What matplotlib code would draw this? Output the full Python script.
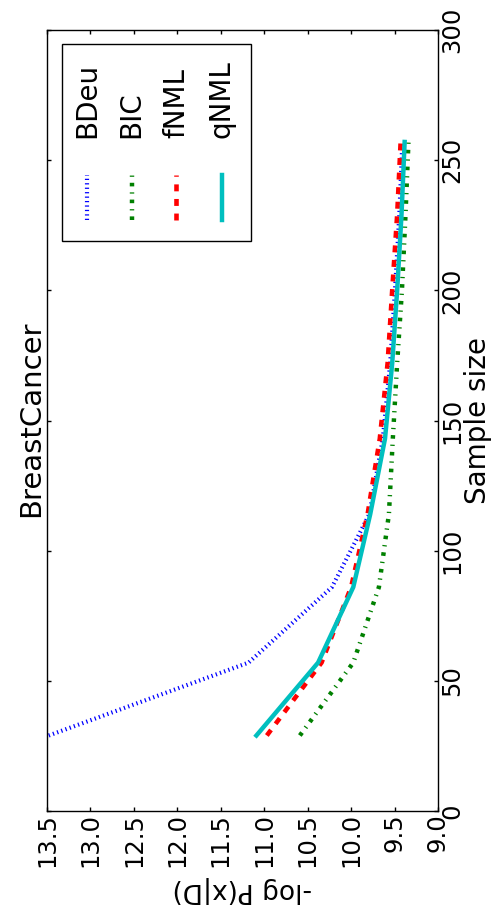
import matplotlib
matplotlib.use("Agg")
import matplotlib.pyplot as plt
from matplotlib.lines import Line2D
from matplotlib.patches import Rectangle

# Sample sizes (about 10%..90% of the 286 BreastCancer records)
sample_size = [29, 57, 86, 114, 143, 172, 200, 229, 257]

# Predictive log-loss per scoring criterion
bdeu = [13.48, 11.18, 10.22, 9.79, 9.635, 9.55, 9.495, 9.445, 9.41]
bic = [10.59, 9.975, 9.68, 9.565, 9.52, 9.47, 9.415, 9.374, 9.34]
fnml = [10.97, 10.34, 10.00, 9.81, 9.67, 9.58, 9.527, 9.47, 9.43]
qnml = [11.09, 10.38, 9.975, 9.78, 9.61, 9.527, 9.47, 9.42, 9.384]

series_names = ["BDeu", "BIC", "fNML", "qNML"]
loss_ticks = [13.5, 13.0, 12.5, 12.0, 11.5, 11.0, 10.5, 10.0, 9.5, 9.0]
size_ticks = [0, 50, 100, 150, 200, 250, 300]

plt.rcParams["lines.scale_dashes"] = False
plt.rcParams["font.family"] = ["DejaVu Sans"]

W, H = 498, 916
fig = plt.figure(figsize=(W / 100, H / 100), dpi=100)

# axes box in pixels: x 47..438, y 30..811 (from top)
ax = fig.add_axes([47 / W, (H - 811) / H, 391 / W, 781 / H])

styles = {
    "BDeu": dict(color=(0, 0, 1), lw=3.0, dashes=(0.9, 2.3)),
    "BIC": dict(color=(0, 0.5, 0), lw=3.2, dashes=(2.6, 4.3, 0.9, 4.3)),
    "fNML": dict(color=(1, 0, 0), lw=3.3, dashes=(5.0, 5.5)),
    "qNML": dict(color=(0, 0.75, 0.75), lw=3.2),
}
data = {"BDeu": bdeu, "BIC": bic, "fNML": fnml, "qNML": qnml}

# the chart is laid out sideways: loss runs horizontally, sample size vertically
for name in series_names:
    ax.plot(data[name], sample_size, **styles[name])

ax.set_xlim(13.5, 9.0)
ax.set_ylim(0, 300)
ax.set_xticks(loss_ticks)
ax.set_xticklabels([f"{v:.1f}" for v in loss_ticks], rotation=90)
ax.set_yticks(size_ticks)
ax.set_yticklabels([str(v) for v in size_ticks], rotation=90, va="center")

ax.tick_params(axis="both", which="major", direction="in", length=3.2,
               width=1.0, top=True, bottom=True, left=True, right=True,
               labelleft=False, labelright=True, labelsize=17.5, pad=1.5)
for sp in ax.spines.values():
    sp.set_linewidth(1.0)
    sp.set_color("black")

ax.set_xlabel("-log P(x|D)", fontsize=19, rotation=180)
ax.xaxis.set_label_coords(0.5, (811 - 876) / 781)
ax.xaxis.label.set_va("top")

ax.yaxis.set_label_position("right")
ax.set_ylabel("Sample size", fontsize=20, rotation=90)
ax.yaxis.label.set_va("center")
ax.yaxis.label.set_ha("center")
ax.yaxis.set_label_coords((478 - 47) / 391, 0.5)

fig.text(31 / W, 1 - 419 / H, "BreastCancer", rotation=90, fontsize=21,
         ha="center", va="center")


def ax_x(px):
    return (px - 47) / 391


def ax_y(py):
    return (811 - py) / 781


# legend box with vertical entries
ax.add_patch(Rectangle((ax_x(62), ax_y(241)), ax_x(251) - ax_x(62),
                       ax_y(44) - ax_y(241), transform=ax.transAxes,
                       facecolor="white", edgecolor="black", lw=1.0, zorder=5))
entry_x = [87, 131.5, 176, 221.5]
for name, px in zip(series_names, entry_x):
    st = dict(styles[name])
    ax.add_line(Line2D([ax_x(px), ax_x(px)], [ax_y(220), ax_y(175)],
                       transform=ax.transAxes, zorder=6, **st))
    ax.text(ax_x(px), ax_y(138), name, rotation=90, fontsize=20,
            ha="center", va="bottom", transform=ax.transAxes, zorder=6)

fig.savefig("out.png", dpi=100)
